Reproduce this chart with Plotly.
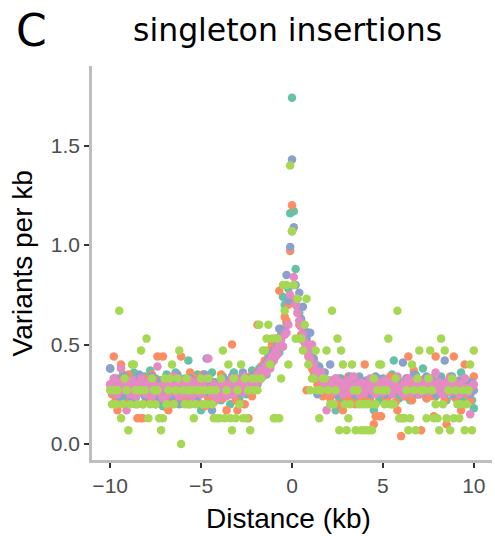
import numpy as np
import plotly.graph_objects as go

# bins of 0.1 kb from -10 to 10 kb around the feature
distance_kb = np.round(np.linspace(-10, 10, 201), 1)

series_names = ["set 1", "set 2", "set 3", "set 4", "set 5"]
series_colors = ["#66C2A5", "#FC8D62", "#8DA0CB", "#E78AC3", "#A6D854"]

teal_vals = [
    0.38, 0.27, 0.33, 0.25, 0.31, 0.22, 0.29, 0.35, 0.24, 0.30, 0.21, 0.33, 0.27, 0.36, 0.23, 0.29, 0.32, 0.26, 0.20, 0.34,
    0.28, 0.24, 0.37, 0.30, 0.22, 0.33, 0.27, 0.25, 0.31, 0.19, 0.29, 0.35, 0.26, 0.23, 0.32, 0.28, 0.36, 0.21, 0.30, 0.27,
    0.25, 0.33, 0.29, 0.42, 0.24, 0.31, 0.27, 0.22, 0.35, 0.28, 0.17, 0.30, 0.26, 0.33, 0.23, 0.29, 0.36, 0.25, 0.31, 0.27,
    0.30, 0.22, 0.34, 0.27, 0.25, 0.32, 0.20, 0.29, 0.36, 0.26, 0.31, 0.23, 0.28, 0.35, 0.30, 0.25, 0.33, 0.29, 0.37, 0.31,
    0.34, 0.30, 0.38, 0.33, 0.36, 0.41, 0.35, 0.44, 0.39, 0.47, 0.43, 0.50, 0.48, 0.46, 0.55, 0.74, 0.70, 0.61, 0.78, 1.16,
    1.74, 1.17, 0.88, 0.69, 0.66, 0.62, 0.60, 0.55, 0.51, 0.48, 0.45, 0.42, 0.40, 0.37, 0.35, 0.39, 0.31, 0.34, 0.30, 0.28,
    0.32, 0.27, 0.25, 0.30, 0.17, 0.28, 0.23, 0.33, 0.26, 0.21, 0.29, 0.24, 0.31, 0.27, 0.22, 0.30, 0.25, 0.34, 0.28, 0.23,
    0.29, 0.26, 0.32, 0.24, 0.30, 0.17, 0.27, 0.33, 0.22, 0.28, 0.25, 0.31, 0.27, 0.24, 0.30, 0.35, 0.42, 0.26, 0.29, 0.23,
    0.31, 0.27, 0.24, 0.33, 0.28, 0.22, 0.30, 0.26, 0.35, 0.29, 0.25, 0.32, 0.38, 0.27, 0.23, 0.30, 0.26, 0.33, 0.28, 0.24,
    0.30, 0.27, 0.34, 0.25, 0.29, 0.22, 0.31, 0.27, 0.33, 0.24, 0.28, 0.30, 0.26, 0.36, 0.23, 0.29, 0.32, 0.25, 0.28, 0.22,
    0.18,
]

orange_vals = [
    0.30, 0.25, 0.44, 0.22, 0.17, 0.33, 0.40, 0.27, 0.20, 0.29, 0.35, 0.23, 0.31, 0.26, 0.20, 0.13, 0.28, 0.13, 0.13, 0.33,
    0.27, 0.22, 0.30, 0.35, 0.25, 0.20, 0.44, 0.32, 0.27, 0.44, 0.23, 0.30, 0.17, 0.26, 0.34, 0.21, 0.29, 0.24, 0.32, 0.44,
    0.27, 0.23, 0.31, 0.20, 0.36, 0.28, 0.25, 0.33, 0.22, 0.30, 0.26, 0.35, 0.19, 0.28, 0.24, 0.32, 0.27, 0.21, 0.30, 0.25,
    0.29, 0.35, 0.23, 0.27, 0.17, 0.31, 0.25, 0.50, 0.28, 0.22, 0.17, 0.33, 0.26, 0.30, 0.20, 0.27, 0.13, 0.34, 0.24, 0.30,
    0.36, 0.60, 0.33, 0.39, 0.35, 0.42, 0.40, 0.47, 0.44, 0.50, 0.45, 0.53, 0.49, 0.77, 0.58, 0.55, 0.64, 0.62, 0.70, 0.97,
    1.20, 0.80, 0.72, 0.66, 0.60, 0.55, 0.52, 0.48, 0.27, 0.44, 0.41, 0.38, 0.36, 0.33, 0.30, 0.35, 0.28, 0.24, 0.31, 0.26,
    0.29, 0.23, 0.30, 0.25, 0.33, 0.20, 0.27, 0.31, 0.17, 0.24, 0.28, 0.34, 0.22, 0.30, 0.26, 0.20, 0.32, 0.27, 0.23, 0.29,
    0.40, 0.25, 0.30, 0.22, 0.27, 0.10, 0.14, 0.33, 0.14, 0.14, 0.26, 0.31, 0.23, 0.28, 0.34, 0.25, 0.30, 0.21, 0.17, 0.27,
    0.04, 0.30, 0.24, 0.33, 0.44, 0.27, 0.22, 0.37, 0.29, 0.25, 0.31, 0.07, 0.26, 0.33, 0.23, 0.28, 0.30, 0.24, 0.14, 0.44,
    0.27, 0.32, 0.25, 0.30, 0.22, 0.10, 0.28, 0.34, 0.26, 0.44, 0.23, 0.30, 0.27, 0.17, 0.31, 0.40, 0.25, 0.29, 0.22, 0.27,
    0.34,
]

blue_vals = [
    0.38, 0.30, 0.26, 0.33, 0.29, 0.24, 0.31, 0.27, 0.34, 0.25, 0.30, 0.28, 0.23, 0.32, 0.27, 0.29, 0.35, 0.26, 0.30, 0.24,
    0.31, 0.27, 0.29, 0.34, 0.25, 0.30, 0.28, 0.22, 0.32, 0.27, 0.30, 0.25, 0.33, 0.28, 0.24, 0.30, 0.27, 0.35, 0.20, 0.29,
    0.27, 0.31, 0.25, 0.29, 0.33, 0.26, 0.30, 0.28, 0.24, 0.32, 0.27, 0.30, 0.35, 0.43, 0.26, 0.29, 0.17, 0.31, 0.27, 0.24,
    0.30, 0.28, 0.33, 0.26, 0.29, 0.31, 0.25, 0.34, 0.28, 0.30, 0.27, 0.32, 0.26, 0.36, 0.29, 0.31, 0.27, 0.33, 0.30, 0.35,
    0.32, 0.36, 0.34, 0.38, 0.35, 0.40, 0.37, 0.42, 0.45, 0.41, 0.47, 0.44, 0.50, 0.58, 0.54, 0.49, 0.57, 0.85, 0.72, 0.99,
    1.43, 1.09, 0.80, 0.73, 0.76, 0.63, 0.69, 0.57, 0.53, 0.56, 0.56, 0.46, 0.43, 0.40, 0.25, 0.38, 0.35, 0.33, 0.36, 0.31,
    0.29, 0.40, 0.32, 0.27, 0.30, 0.25, 0.33, 0.28, 0.31, 0.26, 0.30, 0.27, 0.34, 0.29, 0.25, 0.31, 0.28, 0.33, 0.26, 0.30,
    0.27, 0.32, 0.29, 0.25, 0.31, 0.28, 0.34, 0.26, 0.30, 0.27, 0.33, 0.29, 0.25, 0.31, 0.28, 0.30, 0.26, 0.32, 0.29, 0.27,
    0.31, 0.41, 0.28, 0.33, 0.26, 0.30, 0.27, 0.35, 0.29, 0.25, 0.32, 0.28, 0.30, 0.26, 0.34, 0.29, 0.27, 0.31, 0.28, 0.25,
    0.30, 0.27, 0.33, 0.29, 0.42, 0.26, 0.31, 0.28, 0.34, 0.25, 0.30, 0.27, 0.32, 0.29, 0.26, 0.33, 0.28, 0.30, 0.25, 0.31,
    0.27,
]

pink_vals = [
    0.30, 0.26, 0.33, 0.28, 0.25, 0.31, 0.38, 0.27, 0.30, 0.17, 0.29, 0.25, 0.32, 0.28, 0.24, 0.30, 0.27, 0.33, 0.26, 0.29,
    0.25, 0.31, 0.28, 0.24, 0.30, 0.27, 0.39, 0.26, 0.29, 0.23, 0.32, 0.28, 0.25, 0.30, 0.27, 0.34, 0.26, 0.29, 0.24, 0.31,
    0.28, 0.25, 0.30, 0.27, 0.32, 0.24, 0.29, 0.26, 0.31, 0.28, 0.25, 0.30, 0.27, 0.33, 0.43, 0.28, 0.25, 0.30, 0.27, 0.23,
    0.29, 0.26, 0.31, 0.28, 0.24, 0.30, 0.27, 0.33, 0.25, 0.29, 0.32, 0.27, 0.30, 0.26, 0.34, 0.28, 0.31, 0.27, 0.30, 0.33,
    0.30, 0.35, 0.32, 0.37, 0.34, 0.39, 0.36, 0.41, 0.38, 0.44, 0.42, 0.47, 0.45, 0.50, 0.52, 0.49, 0.55, 0.56, 0.60, 0.75,
    1.07, 0.84, 0.70, 0.66, 0.62, 0.59, 0.55, 0.51, 0.48, 0.45, 0.43, 0.50, 0.40, 0.37, 0.35, 0.33, 0.36, 0.31, 0.29, 0.17,
    0.32, 0.28, 0.30, 0.26, 0.33, 0.29, 0.27, 0.31, 0.25, 0.30, 0.28, 0.32, 0.26, 0.29, 0.34, 0.27, 0.30, 0.25, 0.31, 0.28,
    0.26, 0.30, 0.28, 0.33, 0.27, 0.29, 0.25, 0.31, 0.28, 0.30, 0.26, 0.32, 0.29, 0.27, 0.31, 0.25, 0.30, 0.28, 0.34, 0.27,
    0.29, 0.25, 0.31, 0.28, 0.33, 0.26, 0.30, 0.27, 0.32, 0.28, 0.25, 0.30, 0.27, 0.31, 0.29, 0.26, 0.33, 0.28, 0.30, 0.36,
    0.27, 0.31, 0.28, 0.25, 0.30, 0.29, 0.32, 0.26, 0.29, 0.27, 0.31, 0.28, 0.25, 0.30, 0.27, 0.33, 0.28, 0.26, 0.15, 0.29,
    0.30,
]

green_vals = [
    0.27, 0.20, 0.27, 0.20, 0.27, 0.67, 0.13, 0.20, 0.33, 0.27, 0.07, 0.20, 0.40, 0.40, 0.27, 0.20, 0.27, 0.47, 0.20, 0.27,
    0.53, 0.13, 0.20, 0.33, 0.27, 0.20, 0.27, 0.13, 0.07, 0.13, 0.33, 0.20, 0.27, 0.33, 0.40, 0.20, 0.27, 0.33, 0.47, 0.00,
    0.27, 0.20, 0.33, 0.27, 0.20, 0.27, 0.13, 0.20, 0.27, 0.27, 0.33, 0.20, 0.27, 0.20, 0.33, 0.27, 0.20, 0.13, 0.27, 0.13,
    0.13, 0.33, 0.47, 0.13, 0.27, 0.40, 0.13, 0.07, 0.33, 0.13, 0.27, 0.20, 0.40, 0.13, 0.33, 0.13, 0.27, 0.07, 0.33, 0.27,
    0.33, 0.27, 0.60, 0.33, 0.47, 0.47, 0.53, 0.60, 0.40, 0.53, 0.13, 0.13, 0.53, 0.13, 0.33, 0.80, 0.67, 0.80, 0.40, 1.40,
    1.07, 0.80, 0.53, 0.73, 0.53, 0.53, 0.47, 0.60, 0.73, 0.40, 0.27, 0.33, 0.33, 0.47, 0.27, 0.13, 0.27, 0.33, 0.33, 0.47,
    0.27, 0.20, 0.67, 0.20, 0.27, 0.53, 0.07, 0.47, 0.40, 0.20, 0.07, 0.13, 0.20, 0.40, 0.27, 0.07, 0.27, 0.20, 0.07, 0.20,
    0.07, 0.20, 0.07, 0.20, 0.07, 0.33, 0.20, 0.27, 0.40, 0.40, 0.27, 0.20, 0.27, 0.53, 0.20, 0.20, 0.20, 0.33, 0.67, 0.13,
    0.13, 0.13, 0.13, 0.27, 0.07, 0.13, 0.40, 0.27, 0.07, 0.33, 0.47, 0.27, 0.27, 0.27, 0.13, 0.33, 0.47, 0.27, 0.13, 0.20,
    0.13, 0.07, 0.53, 0.20, 0.47, 0.13, 0.27, 0.07, 0.33, 0.13, 0.27, 0.20, 0.13, 0.20, 0.27, 0.07, 0.20, 0.27, 0.40, 0.07,
    0.47,
]

x_tick_vals = [-10, -5, 0, 5, 10]
x_tick_text = ["\u221210", "\u22125", "0", "5", "10"]
y_tick_vals = [0.0, 0.5, 1.0, 1.5]


def main():
    fig = go.Figure()
    all_vals = [teal_vals, orange_vals, blue_vals, pink_vals, green_vals]
    for name, color, vals in zip(series_names, series_colors, all_vals):
        fig.add_trace(go.Scatter(
            x=distance_kb,
            y=vals,
            mode="markers",
            name=name,
            marker=dict(color=color, size=8.5, line=dict(width=0)),
            showlegend=False,
            cliponaxis=False,
        ))

    tick_font = dict(family="Liberation Sans, Arial, sans-serif", size=21, color="#4D4D4D")
    axis_common = dict(
        showline=True, linecolor="#BEBEBE", linewidth=2.5, mirror=False,
        ticks="outside", tickcolor="#333333", ticklen=5, tickwidth=2,
        showgrid=False, zeroline=False, tickfont=tick_font, automargin=False,
    )
    fig.update_xaxes(range=[-11, 11], tickvals=x_tick_vals, ticktext=x_tick_text, **axis_common)
    fig.update_yaxes(range=[-0.08, 1.9], tickvals=y_tick_vals, tickformat=".1f", **axis_common)

    label_font = dict(family="Liberation Sans, Arial, sans-serif", size=28, color="black")
    fig.update_layout(
        width=495,
        height=536,
        margin=dict(l=92, r=3, t=66, b=76, autoexpand=False),
        plot_bgcolor="white",
        paper_bgcolor="white",
        annotations=[
            dict(text="Distance (kb)", xref="paper", yref="paper", x=0.49, y=-0.148,
                 xanchor="center", yanchor="middle", showarrow=False, font=label_font),
            dict(text="Variants per kb", xref="paper", yref="paper", x=-0.174, y=0.5,
                 xanchor="center", yanchor="middle", textangle=-90, showarrow=False, font=label_font),
            dict(text="singleton insertions", xref="paper", yref="paper", x=0.4875, y=1.092,
                 xanchor="center", yanchor="middle", showarrow=False,
                 font=dict(family="DejaVu Sans", size=31.5, color="black")),
            dict(text="C", xref="paper", yref="paper", x=-0.195, y=1.089,
                 xanchor="left", yanchor="middle", showarrow=False,
                 font=dict(family="DejaVu Sans", size=44, color="black")),
        ],
    )
    # the page body has a default 8px margin; drop it so the figure fills the window
    fig.write_html("out.html", config={"displayModeBar": False},
                   post_script="document.body.style.margin = '0';")


if __name__ == "__main__":
    main()
